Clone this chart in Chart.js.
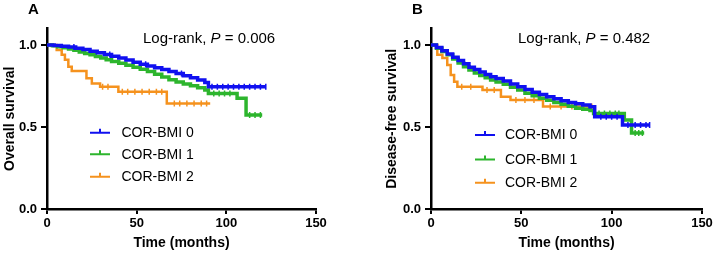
<!DOCTYPE html>
<html><head><meta charset="utf-8">
<script src="https://cdn.jsdelivr.net/npm/chart.js@4"></script>
<style>
html,body{margin:0;padding:0;background:#fff;}
#wrap{position:relative;width:715px;height:256px;overflow:hidden;}
canvas{position:absolute;top:0;}
</style></head><body>
<div id="wrap">
<canvas id="cA" width="357" height="256" style="left:0"></canvas>
<canvas id="cB" width="358" height="256" style="left:357px"></canvas>
</div>
<script>
// ---------- data ----------
const seriesLabels = ['COR-BMI 0', 'COR-BMI 1', 'COR-BMI 2'];
const seriesColors = ['#1010f0', '#2db52d', '#f5921e'];
const xTicks = [0, 50, 100, 150];
const yTicks = [0, 0.5, 1.0];

// Panel A: overall survival
const osTime0 = [0, 4, 8, 12, 16, 20, 24, 28, 32, 36, 40, 44, 48, 52, 56, 60, 64, 68, 72, 76, 80, 84, 88, 90, 122];
const osSurv0 = [1, .997, .993, .988, .98, .972, .962, .953, .942, .932, .92, .908, .895, .882, .872, .862, .85, .838, .826, .812, .8, .787, .772, .746, .746];
const osCens0 = [15, 35, 55, 75, 92, 95, 98, 101, 104, 107, 110, 113, 116, 119, 122];

const osTime1 = [0, 3, 6, 9, 12, 15, 18, 21, 24, 27, 30, 33, 36, 40, 44, 48, 52, 56, 60, 64, 68, 72, 76, 80, 84, 88, 90, 106, 111, 120];
const osSurv1 = [1, .995, .99, .983, .976, .968, .958, .948, .94, .93, .92, .91, .9, .888, .876, .864, .852, .838, .822, .805, .788, .775, .762, .752, .74, .725, .705, .675, .573, .573];
const osCens1 = [93, 96, 99, 102, 113, 116, 119];

const osTime2 = [0, 5.4, 8.2, 10, 11.9, 13.8, 22, 25, 29.6, 39.8, 66.8, 91];
const osSurv2 = [1, .97, .94, .91, .868, .841, .797, .766, .746, .715, .644, .644];
const osCens2 = [31, 34, 42, 45, 49, 53, 57, 61, 64, 71, 74, 78, 82, 86, 89];

// Panel B: disease-free survival
const dfsTime0 = [0, 3, 6, 9, 12, 15, 18, 21, 24, 27, 30, 33, 36, 40, 44, 48, 52, 56, 60, 64, 68, 72, 76, 80, 84, 88, 90.6, 106, 121];
const dfsSurv0 = [1, .985, .965, .945, .925, .905, .885, .865, .85, .835, .82, .807, .795, .78, .762, .745, .728, .712, .698, .685, .672, .66, .65, .642, .634, .624, .563, .512, .512];
const dfsCens0 = [94, 97, 100, 103, 109, 113, 116, 119, 121];

const dfsTime1 = [0, 3, 6, 9, 12, 15, 18, 21, 24, 27, 30, 33, 36, 40, 44, 48, 52, 56, 60, 64, 68, 72, 76, 80, 84, 88, 90, 107, 111, 118];
const dfsSurv1 = [1, .98, .96, .94, .915, .89, .868, .848, .83, .814, .8, .787, .775, .76, .742, .725, .706, .69, .676, .663, .65, .638, .626, .614, .608, .6, .583, .543, .463, .463];
const dfsCens1 = [93, 96, 99, 102, 104, 113, 115, 117];

const dfsTime2 = [0, 3.5, 6.3, 9, 10.9, 12.8, 14.6, 28.5, 38.7, 44, 62, 89];
const dfsSurv2 = [1, .94, .92, .878, .817, .776, .746, .726, .685, .665, .625, .625];
const dfsCens2 = [17, 22, 31, 35, 47, 52, 57, 66, 72, 78, 84, 89];

// ---------- helpers ----------
const FONT = "'Liberation Sans', Arial, Helvetica, sans-serif";

function survAt(times, surv, t) {
  let v = surv[0];
  for (let i = 0; i < times.length; i++) { if (times[i] <= t) v = surv[i]; }
  return v;
}

function buildDatasets(groups) {
  const ds = [];
  groups.forEach((g, i) => {
    ds.push({
      label: seriesLabels[i],
      data: g.t.map((t, k) => ({x: t, y: g.s[k]})),
      stepped: true,
      borderColor: seriesColors[i],
      borderWidth: i === 2 ? 2.5 : 3.5,
      pointRadius: 0,
      fill: false,
      order: i * 2 + 1
    });
    ds.push({
      label: seriesLabels[i] + ' censored',
      data: g.c.map(t => ({x: t, y: survAt(g.t, g.s, t)})),
      showLine: false,
      pointStyle: 'line',
      rotation: 90,
      pointRadius: 3,
      pointBorderWidth: 1.5,
      borderColor: seriesColors[i],
      backgroundColor: seriesColors[i],
      order: i * 2
    });
  });
  return ds;
}

const decoPlugin = {
  id: 'kmDeco',
  afterDraw(chart, args, o) {
    const ctx = chart.ctx;
    ctx.save();
    ctx.fillStyle = '#000';
    ctx.textBaseline = 'middle';
    ctx.textAlign = 'left';
    ctx.font = 'bold 15px ' + FONT;
    ctx.fillText(o.letter, o.letterX, 10);
    let x = o.pX;
    const y = 39;
    ctx.font = '15px ' + FONT;
    ctx.fillText('Log-rank, ', x, y); x += ctx.measureText('Log-rank, ').width;
    ctx.font = 'italic 15px ' + FONT;
    ctx.fillText('P', x, y); x += ctx.measureText('P').width;
    ctx.font = '15px ' + FONT;
    ctx.fillText(' = ' + o.pValue, x, y);
    ctx.font = '14px ' + FONT;
    seriesLabels.forEach((lab, i) => {
      const ly = o.legendY[i];
      ctx.strokeStyle = seriesColors[i];
      ctx.lineWidth = 2;
      ctx.beginPath();
      ctx.moveTo(o.legendX0, ly); ctx.lineTo(o.legendX1, ly);
      const mx = (o.legendX0 + o.legendX1) / 2;
      ctx.moveTo(mx, ly - 4); ctx.lineTo(mx, ly + 1);
      ctx.stroke();
      ctx.fillStyle = '#000';
      ctx.fillText(lab, o.legendTextX, ly + 0.5);
    });
    ctx.restore();
  }
};

function makeChart(id, groups, yTitle, yWidth, yTitlePad, padRight, deco) {
  return new Chart(document.getElementById(id), {
    type: 'line',
    data: {datasets: buildDatasets(groups)},
    plugins: [decoPlugin],
    options: {
      responsive: false,
      animation: false,
      devicePixelRatio: 1,
      layout: {padding: {left: 0, right: padRight, top: 28.6, bottom: 0}},
      plugins: {legend: {display: false}, tooltip: {enabled: false}, kmDeco: deco},
      scales: {
        x: {
          type: 'linear', min: 0, max: 150,
          afterBuildTicks: s => { s.ticks = xTicks.map(v => ({value: v})); },
          afterFit: s => { s.height = 47; },
          grid: {drawOnChartArea: false, drawTicks: true, tickLength: 5, color: '#000', lineWidth: 2},
          border: {color: '#000', width: 2.5},
          ticks: {color: '#000', padding: 2, maxRotation: 0, font: {family: FONT, size: 13, weight: 'bold'}},
          title: {display: true, text: 'Time (months)', color: '#000', padding: {top: 0, bottom: 6},
                  font: {family: FONT, size: 14, weight: 'bold', lineHeight: 1}}
        },
        y: {
          type: 'linear', min: 0, max: 1.1,
          afterBuildTicks: s => { s.ticks = yTicks.map(v => ({value: v})); },
          afterFit: s => { s.width = yWidth; },
          grid: {drawOnChartArea: false, drawTicks: true, tickLength: 6, color: '#000', lineWidth: 2},
          border: {color: '#000', width: 2.5},
          ticks: {color: '#000', padding: 4, callback: v => Number(v).toFixed(1),
                  font: {family: FONT, size: 13, weight: 'bold'}},
          title: {display: true, text: yTitle, color: '#000', padding: {top: yTitlePad, bottom: 0},
                  font: {family: FONT, size: 14, weight: 'bold', lineHeight: 1}}
        }
      }
    }
  });
}

makeChart('cA', [
  {t: osTime0, s: osSurv0, c: osCens0},
  {t: osTime1, s: osSurv1, c: osCens1},
  {t: osTime2, s: osSurv2, c: osCens2}
], 'Overall survival', 47, 3, 41,
{letter: 'A', letterX: 28, pX: 143, pValue: '0.006', legendX0: 90, legendX1: 110, legendTextX: 121.5, legendY: [132.7, 154.3, 176.7]});

makeChart('cB', [
  {t: dfsTime0, s: dfsSurv0, c: dfsCens0},
  {t: dfsTime1, s: dfsSurv1, c: dfsCens1},
  {t: dfsTime2, s: dfsSurv2, c: dfsCens2}
], 'Disease-free survival', 74, 28, 13,
{letter: 'B', letterX: 55, pX: 161, pValue: '0.482', legendX0: 118, legendX1: 138, legendTextX: 148, legendY: [135, 159.5, 182.7]});
</script>
</body></html>
